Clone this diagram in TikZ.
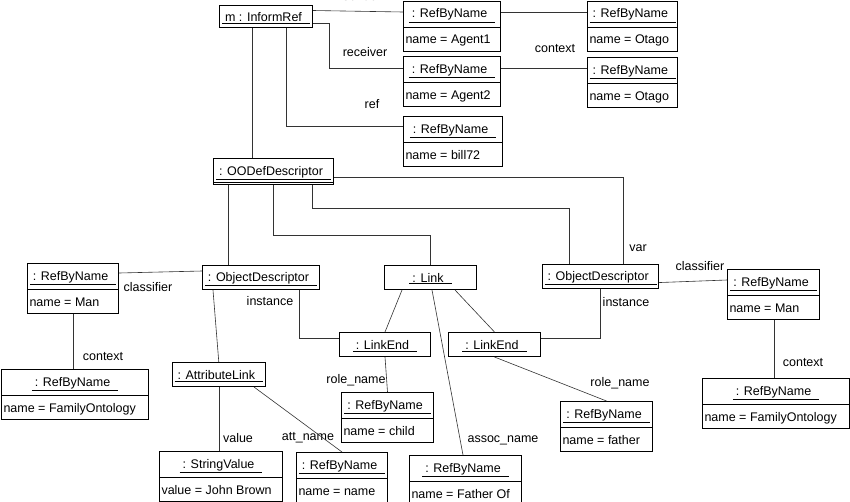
\documentclass[tikz,border=0pt]{standalone}
\usepackage{fontspec}
\setmainfont{Liberation Sans}
\usetikzlibrary{shapes.multipart}

\newcommand{\uname}[1]{\underline{\hspace{3pt}#1\hspace{8pt}}}
\newcommand{\ostrut}{\rule[-2.5pt]{0pt}{14.5pt}}

\begin{document}
\begin{tikzpicture}[
    x=1pt, y=-1pt,
    every node/.style={font=\fontsize{12.5}{14}\selectfont},
    obj/.style={rectangle split, rectangle split parts=2, draw=black, line width=1pt,
        rectangle split part align={center,left}, inner xsep=2pt, inner ysep=4.25pt, anchor=north west},
    thing/.style={draw=black, line width=1pt, inner xsep=2pt, inner ysep=3.75pt,
        minimum height=24pt, anchor=north west},
    link/.style={black!80, line width=0.6pt},
    role/.style={inner sep=0pt},
]
    \useasboundingbox[fill=white] (0,0) rectangle (850,501);

    % --- Message and its references ---
    \node[thing, minimum width=93pt, minimum height=22pt] (IR) at (219,5) {\ostrut\uname{m : InformRef}};
    \node[obj, minimum width=97pt] (A1) at (403,0.5) {\ostrut\uname{: RefByName}\nodepart{two}\ostrut name = Agent1};
    \node[obj, minimum width=90pt] (O1) at (587,0.5) {\ostrut\uname{: RefByName}\nodepart{two}\ostrut name = Otago};
    \node[obj, minimum width=97pt] (A2) at (403,56) {\ostrut\uname{: RefByName}\nodepart{two}\ostrut name = Agent2};
    \node[obj, minimum width=90pt] (O2) at (587,57) {\ostrut\uname{: RefByName}\nodepart{two}\ostrut name = Otago};
    \node[obj, minimum width=99pt] (B72) at (403,116) {\ostrut\uname{: RefByName}\nodepart{two}\ostrut name = bill72};

    % --- Descriptor ---
    \node[thing, minimum width=120pt, minimum height=26pt] (OOD) at (213,158) {\ostrut\uname{: OODefDescriptor}};
    \draw[line width=1pt] ([yshift=3pt]OOD.south west) -- ([yshift=3pt]OOD.south east);

    % --- Objects and link ---
    \node[thing, minimum width=117pt] (OD1) at (202,265) {\ostrut\uname{: ObjectDescriptor}};
    \node[thing, minimum width=92pt] (LK) at (384,265) {\ostrut\uname{: Link}};
    \node[thing, minimum width=116pt] (OD2) at (542,264) {\ostrut\uname{: ObjectDescriptor}};
    \node[obj, minimum width=91pt] (M1) at (27,263) {\ostrut\uname{: RefByName}\nodepart{two}\ostrut name = Man};
    \node[obj, minimum width=92pt] (M2) at (727,269) {\ostrut\uname{: RefByName}\nodepart{two}\ostrut name = Man};
    \node[thing, minimum width=91pt] (LE1) at (339,332) {\ostrut\uname{: LinkEnd}};
    \node[thing, minimum width=92pt] (LE2) at (448,332) {\ostrut\uname{: LinkEnd}};
    \node[obj, minimum width=147pt] (FO1) at (1,369) {\ostrut\uname{: RefByName}\nodepart{two}\ostrut name = FamilyOntology};
    \node[obj, minimum width=147pt] (FO2) at (702,378) {\ostrut\uname{: RefByName}\nodepart{two}\ostrut name = FamilyOntology};

    % --- Bottom row ---
    \node[thing, minimum width=92pt] (AL) at (172,362) {\ostrut\uname{: AttributeLink}};
    \node[obj, minimum width=92pt] (CH) at (341,392) {\ostrut\uname{: RefByName}\nodepart{two}\ostrut name = child};
    \node[obj, minimum width=92pt] (FA) at (560,401) {\ostrut\uname{: RefByName}\nodepart{two}\ostrut name = father};
    \node[obj, minimum width=123pt] (SV) at (159,451) {\ostrut\uname{: StringValue}\nodepart{two}\ostrut value = John Brown};
    \node[obj, minimum width=91pt] (NM) at (296,452) {\ostrut\uname{: RefByName}\nodepart{two}\ostrut name = name};
    \node[obj, minimum width=112pt] (FOf) at (409,455) {\ostrut\uname{: RefByName}\nodepart{two}\ostrut name = Father Of};

    % --- Role labels ---
    \node[role] (lsender) at (362,-4) {sender};
    \node[role] (lreceiver) at (365,52) {receiver};
    \node[role] (lref) at (372,104) {ref};
    \node[role] (lctx1) at (555,49) {context};
    \node[role] (lvar) at (638,248) {var};
    \node[role] (lcls1) at (148,287) {classifier};
    \node[role] (linst1) at (270,301) {instance};
    \node[role] (lcls2) at (700,266) {classifier};
    \node[role] (linst2) at (626,302) {instance};
    \node[role] (lctx2) at (103,357) {context};
    \node[role] (lctx3) at (803,363) {context};
    \node[role] (lrole1) at (356,380) {role\_name};
    \node[role] (lrole2) at (620,383) {role\_name};
    \node[role] (lvalue) at (238,438) {value};
    \node[role] (lattr) at (308,438) {att\_name};
    \node[role] (lassoc) at (503,440) {assoc\_name};

    % --- Links from the message ---
    \draw[link] ([yshift=6pt]IR.east) -- ([yshift=-11.5pt]A1.north west);
    \draw[link] ([yshift=-7pt]IR.east) -- ++(16,0) |- ([yshift=-12pt]A2.north west);
    \draw[link] ([xshift=67pt]IR.south west) |- ([yshift=-10pt]B72.north west);
    \draw[link] ([xshift=33pt]IR.south west) -- ([xshift=39pt]OOD.north west);
    \draw[link] ([yshift=-11.5pt]A1.north east) -- ([yshift=-11.5pt]O1.north west);
    \draw[link] ([yshift=-12pt]A2.north east) -- ([yshift=-11pt]O2.north west);

    % --- Links from the descriptor ---
    \draw[link] ([yshift=-6pt]OOD.east) -| ([xshift=81pt]OD2.north west);
    \draw[link] ([xshift=99pt]OOD.south west) -- ++(0,23) -| ([xshift=27pt]OD2.north west);
    \draw[link] ([xshift=60pt]OOD.south west) -- ++(0,50) -| (LK.north);
    \draw[link] ([xshift=15pt]OOD.south west) -- ([xshift=26pt]OD1.north west);

    % --- Object descriptors ---
    \draw[link] ([yshift=-10pt]M1.north east) -- ([yshift=-6pt]OD1.north west);
    \draw[link] ([xshift=46pt]M1.south west) -- ([xshift=72pt]FO1.north west);
    \draw[link] ([xshift=11pt]OD1.south west) -- (AL.north);
    \draw[link] ([xshift=97pt]OD1.south west) |- ([yshift=6pt]LE1.west);
    \draw[link] (OD2.south) |- ([yshift=6pt]LE2.east);
    \draw[link] ([yshift=-6pt]OD2.east) -- ([yshift=-11pt]M2.north west);
    \draw[link] ([xshift=47pt]M2.south west) -- ([xshift=72pt]FO2.north west);

    % --- Link and its ends ---
    \draw[link] ([xshift=18pt]LK.south west) -- (LE1.north);
    \draw[link] ([xshift=71pt]LK.south west) -- (LE2.north);
    \draw[link] ([xshift=48pt]LK.south west) -- ([xshift=54pt]FOf.north west);
    \draw[link] (LE1.south) -- (CH.north);
    \draw[link] (LE2.south) -- (FA.north);

    % --- Attribute link ---
    \draw[link] ([xshift=47pt]AL.south west) -- ([xshift=60pt]SV.north west);
    \draw[link] ([xshift=82pt]AL.south west) -- (NM.north);

\end{tikzpicture}
\end{document}
